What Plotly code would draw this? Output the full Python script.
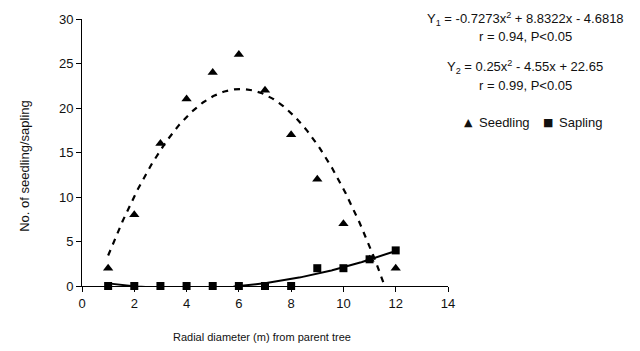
import numpy as np
import plotly.graph_objects as go

x_vals = [1, 2, 3, 4, 5, 6, 7, 8, 9, 10, 11, 12]
seedling = [2, 8, 16, 21, 24, 26, 22, 17, 12, 7, 3, 2]
sapling = [0, 0, 0, 0, 0, 0, 0, 0, 2, 2, 3, 4]
x_ticks = [0, 2, 4, 6, 8, 10, 12, 14]
y_ticks = [0, 5, 10, 15, 20, 25, 30]

# polynomial (order 2) trend lines fitted to the data, as in the source
xs = np.linspace(min(x_vals), max(x_vals), 300)
c1 = np.polyfit(x_vals, seedling, 2)
c2 = np.polyfit(x_vals, sapling, 2)
t1 = np.polyval(c1, xs)
t2 = np.polyval(c2, xs)

FONT = "Liberation Sans, Arial, sans-serif"
L, R, T, B = 82, 448, 15, 286
W, H = 640, 351


def px(xp):
    return (xp - L) / (R - L)


def py(yp):
    return (B - yp) / (B - T)


fig = go.Figure()
fig.add_trace(go.Scatter(x=xs, y=t1, mode="lines", showlegend=False,
                         line=dict(color="black", width=2.2, dash="6px,6px")))
fig.add_trace(go.Scatter(x=xs, y=t2, mode="lines", showlegend=False,
                         line=dict(color="black", width=2)))
fig.add_trace(go.Scatter(x=x_vals, y=seedling, mode="markers", name="Seedling",
                         cliponaxis=False, showlegend=False,
                         marker=dict(symbol="triangle-up", size=9, color="black")))
fig.add_trace(go.Scatter(x=x_vals, y=sapling, mode="markers", name="Sapling",
                         cliponaxis=False, showlegend=False,
                         marker=dict(symbol="square", size=8, color="black")))

ann = [
    ("Y<sub>1</sub> = -0.7273x<sup>2</sup> + 8.8322x - 4.6818", 15),
    ("r = 0.94, P<0.05", 33),
    ("Y<sub>2</sub> = 0.25x<sup>2</sup> - 4.55x + 22.65", 64),
    ("r = 0.99, P<0.05", 82),
]
for txt, ypx in ann:
    fig.add_annotation(text=txt, xref="paper", yref="paper",
                       x=px(525), y=py(ypx),
                       xanchor="center", yanchor="middle", showarrow=False,
                       font=dict(family=FONT, size=13, color="#111"))

# legend (drawn as text)
for txt, xp in [("▲", 468), ("Seedling", 477), ("■", 548), ("Sapling", 557)]:
    is_sym = txt in ("▲", "■")
    fig.add_annotation(text=txt, xref="paper", yref="paper",
                       x=px(xp), y=py(120),
                       xanchor="center" if is_sym else "left", yanchor="middle",
                       showarrow=False,
                       font=dict(family="DejaVu Sans" if is_sym else FONT,
                                 size=11 if is_sym else 13, color="#111"))

# axis titles
fig.add_annotation(text="Radial diameter (m) from parent tree", xref="paper", yref="paper",
                   x=px(262), y=py(338), xanchor="center", yanchor="middle",
                   showarrow=False, font=dict(family=FONT, size=11, color="#111"))
fig.add_annotation(text="No. of seedling/sapling", xref="paper", yref="paper",
                   x=px(25), y=py(164), xanchor="center", yanchor="middle",
                   textangle=-90, showarrow=False,
                   font=dict(family=FONT, size=13, color="#111"))

fig.update_layout(
    width=W, height=H,
    margin=dict(l=L, r=W - R, t=T, b=H - B),
    paper_bgcolor="white", plot_bgcolor="white",
    font=dict(family=FONT, size=12, color="#111"),
    showlegend=False,
    xaxis=dict(range=[0, 14], tickvals=x_ticks, showgrid=False, zeroline=False,
               showline=True, linecolor="black", linewidth=1,
               ticks="outside", ticklen=5, tickcolor="black",
               tickfont=dict(size=13)),
    yaxis=dict(range=[0, 30], tickvals=y_ticks, showgrid=False, zeroline=False,
               showline=True, linecolor="black", linewidth=1,
               ticks="outside", ticklen=5, tickcolor="black",
               tickfont=dict(size=13)),
)
fig.write_html("out.html")
